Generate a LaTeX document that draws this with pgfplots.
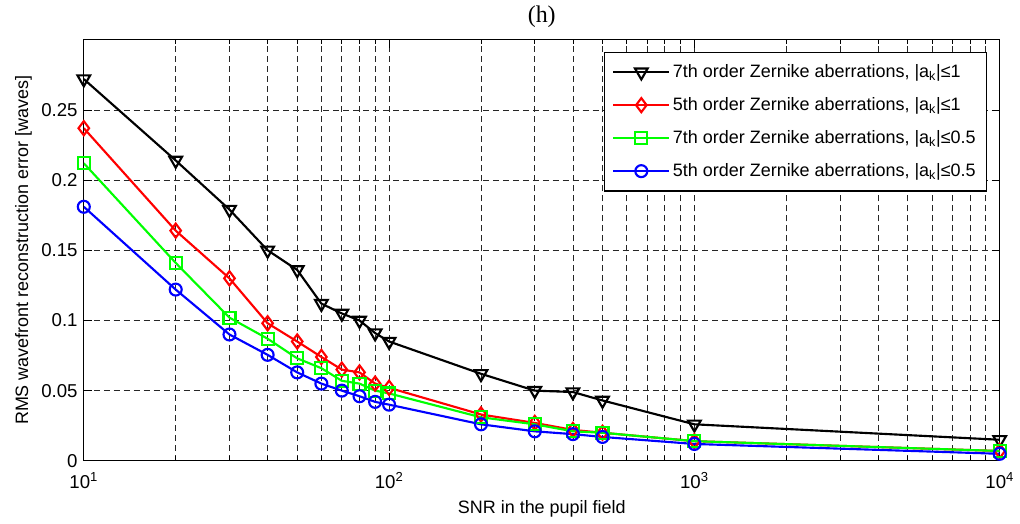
\documentclass[border=0pt]{standalone}
\usepackage{pgfplots}
\pgfplotsset{compat=1.18}
\usepackage{fontspec}
\setmainfont{Liberation Sans}
\newfontfamily\timesfont{Liberation Serif}

\begin{document}
\fontsize{13.5}{16}\selectfont
\begin{tikzpicture}
\begin{axis}[
  xmode=log,
  scale only axis,
  width=688.5pt, height=316.5pt,
  xmin=10, xmax=10000, ymin=0, ymax=0.3,
  xtick={10,100,1000,10000},
  xticklabels={10\textsuperscript{1},10\textsuperscript{2},10\textsuperscript{3},10\textsuperscript{4}},
  ytick={0,0.05,0.1,0.15,0.2,0.25},
  yticklabels={0,0.05,0.1,0.15,0.2,0.25},
  xmajorgrids=true, xminorgrids=true, ymajorgrids=true,
  major grid style={black!85, dash pattern=on 4.5pt off 3pt, line width=0.55pt},
  minor grid style={black!85, dash pattern=on 4.5pt off 3pt, line width=0.55pt},
  tick style={black, line width=0.6pt},
  major tick length=6pt, minor tick length=3.5pt,
  axis line style={line width=0.9pt},
  tick label style={font=\fontsize{14}{16}\selectfont},
  xticklabel style={yshift=-4pt},
  xlabel={SNR in the pupil field},
  ylabel={RMS wavefront reconstruction error [waves]},
  xlabel style={at={(axis description cs:0.5,-0.114)}, anchor=center},
  ylabel style={at={(axis description cs:-0.066,0.5)}, anchor=center},
  title={(h)},
  title style={at={(axis description cs:0.5,1.0355)}, anchor=center, font=\timesfont\fontsize{18}{20}\selectfont},
  legend style={at={(axis description cs:0.986,0.9716)}, anchor=north east,
    draw=black, line width=0.9pt, fill=white,
    font=\fontsize{13.5}{16}\selectfont,
    row sep=9pt, inner xsep=6pt, inner ysep=7pt},
  legend cell align=left,
  legend image code/.code={\draw[mark repeat=2,mark phase=2] plot coordinates {(0pt,0pt) (21pt,0pt) (42pt,0pt)};},
  every axis plot/.append style={line width=1.6pt},
]
\addplot[black, mark=triangle, mark size=5.5pt, mark options={rotate=180}] coordinates {
(10,0.272) (20,0.214) (30,0.179) (40,0.150) (50,0.136) (60,0.112) (70,0.105) (80,0.100)
(90,0.091) (100,0.085) (200,0.062) (300,0.050) (400,0.049) (500,0.043) (1000,0.026) (10000,0.015)};
\addlegendentry{7th order Zernike aberrations, |a\textsubscript{k}|≤1}
\addplot[red, mark=diamond, mark size=5.3pt] coordinates {
(10,0.237) (20,0.164) (30,0.130) (40,0.098) (50,0.085) (60,0.074) (70,0.065) (80,0.063)
(90,0.055) (100,0.052) (200,0.033) (300,0.027) (400,0.022) (500,0.020) (1000,0.014) (10000,0.007)};
\addlegendentry{5th order Zernike aberrations, |a\textsubscript{k}|≤1}
\addplot[green, mark=square, mark size=4.5pt] coordinates {
(10,0.212) (20,0.141) (30,0.102) (40,0.087) (50,0.073) (60,0.066) (70,0.057) (80,0.055)
(90,0.050) (100,0.048) (200,0.031) (300,0.026) (400,0.021) (500,0.020) (1000,0.014) (10000,0.007)};
\addlegendentry{7th order Zernike aberrations, |a\textsubscript{k}|≤0.5}
\addplot[blue, mark=o, mark size=4.5pt] coordinates {
(10,0.181) (20,0.122) (30,0.090) (40,0.0755) (50,0.063) (60,0.055) (70,0.050) (80,0.046)
(90,0.042) (100,0.040) (200,0.026) (300,0.021) (400,0.019) (500,0.017) (1000,0.012) (10000,0.005)};
\addlegendentry{5th order Zernike aberrations, |a\textsubscript{k}|≤0.5}
\end{axis}
\path (current axis.south west) ++(-63pt,-46.5pt) coordinate (bl);
\path (current axis.north east) ++(13.5pt,27.75pt) coordinate (tr);
\path (bl) rectangle (tr);
\end{tikzpicture}
\end{document}
